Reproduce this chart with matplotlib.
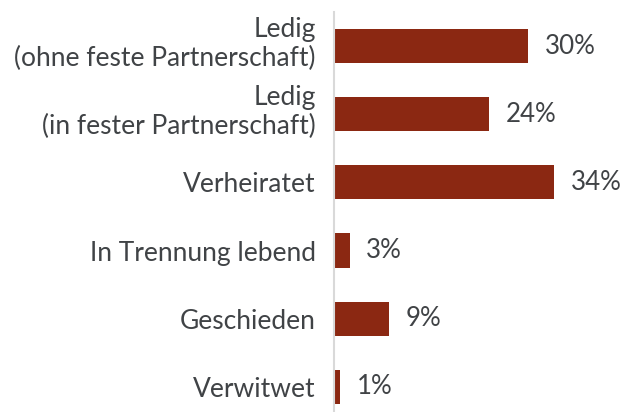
import matplotlib.pyplot as plt
from matplotlib.transforms import ScaledTranslation

# Familienstand - Anteile in Prozent
categories = ['Ledig\n(ohne feste Partnerschaft)', 'Ledig\n(in fester Partnerschaft)',
              'Verheiratet', 'In Trennung lebend', 'Geschieden', 'Verwitwet']
values = [30, 24, 34, 2.4, 8.5, 0.9]
value_labels = ['30%', '24%', '34%', '3%', '9%', '1%']

bar_color = '#8B2812'
text_color = '#404346'

plt.rcParams['font.family'] = ['Lato', 'DejaVu Sans']

fig = plt.figure(figsize=(6.26, 4.12), dpi=100)
ax = fig.add_axes([334 / 626, 0, 1 - 334 / 626, 400 / 412])

pos = list(range(len(categories)))
ax.barh(pos, values, height=0.5, color=bar_color)

for p, v, lab in zip(pos, values, value_labels):
    ax.text(v + 2.6, p, lab, va='center', ha='left', fontsize=18.6, color=text_color)

ax.set_yticks(pos)
ax.set_yticklabels(categories, fontsize=19, color=text_color, linespacing=1.2)
ax.tick_params(axis='y', length=0, pad=13)
# two-line labels sit a little higher than the bar centre
for t in ax.get_yticklabels():
    if '\n' in t.get_text():
        t.set_transform(t.get_transform() + ScaledTranslation(0, 7 / 100, fig.dpi_scale_trans))
ax.set_xticks([])
ax.set_xlim(0, 45.1)
ax.set_ylim(5.37, -0.5)

for s in ['top', 'right', 'bottom']:
    ax.spines[s].set_visible(False)
ax.spines['left'].set_color('#d9d9d9')
ax.spines['left'].set_linewidth(1.5)

fig.savefig('out.png', dpi=100)
